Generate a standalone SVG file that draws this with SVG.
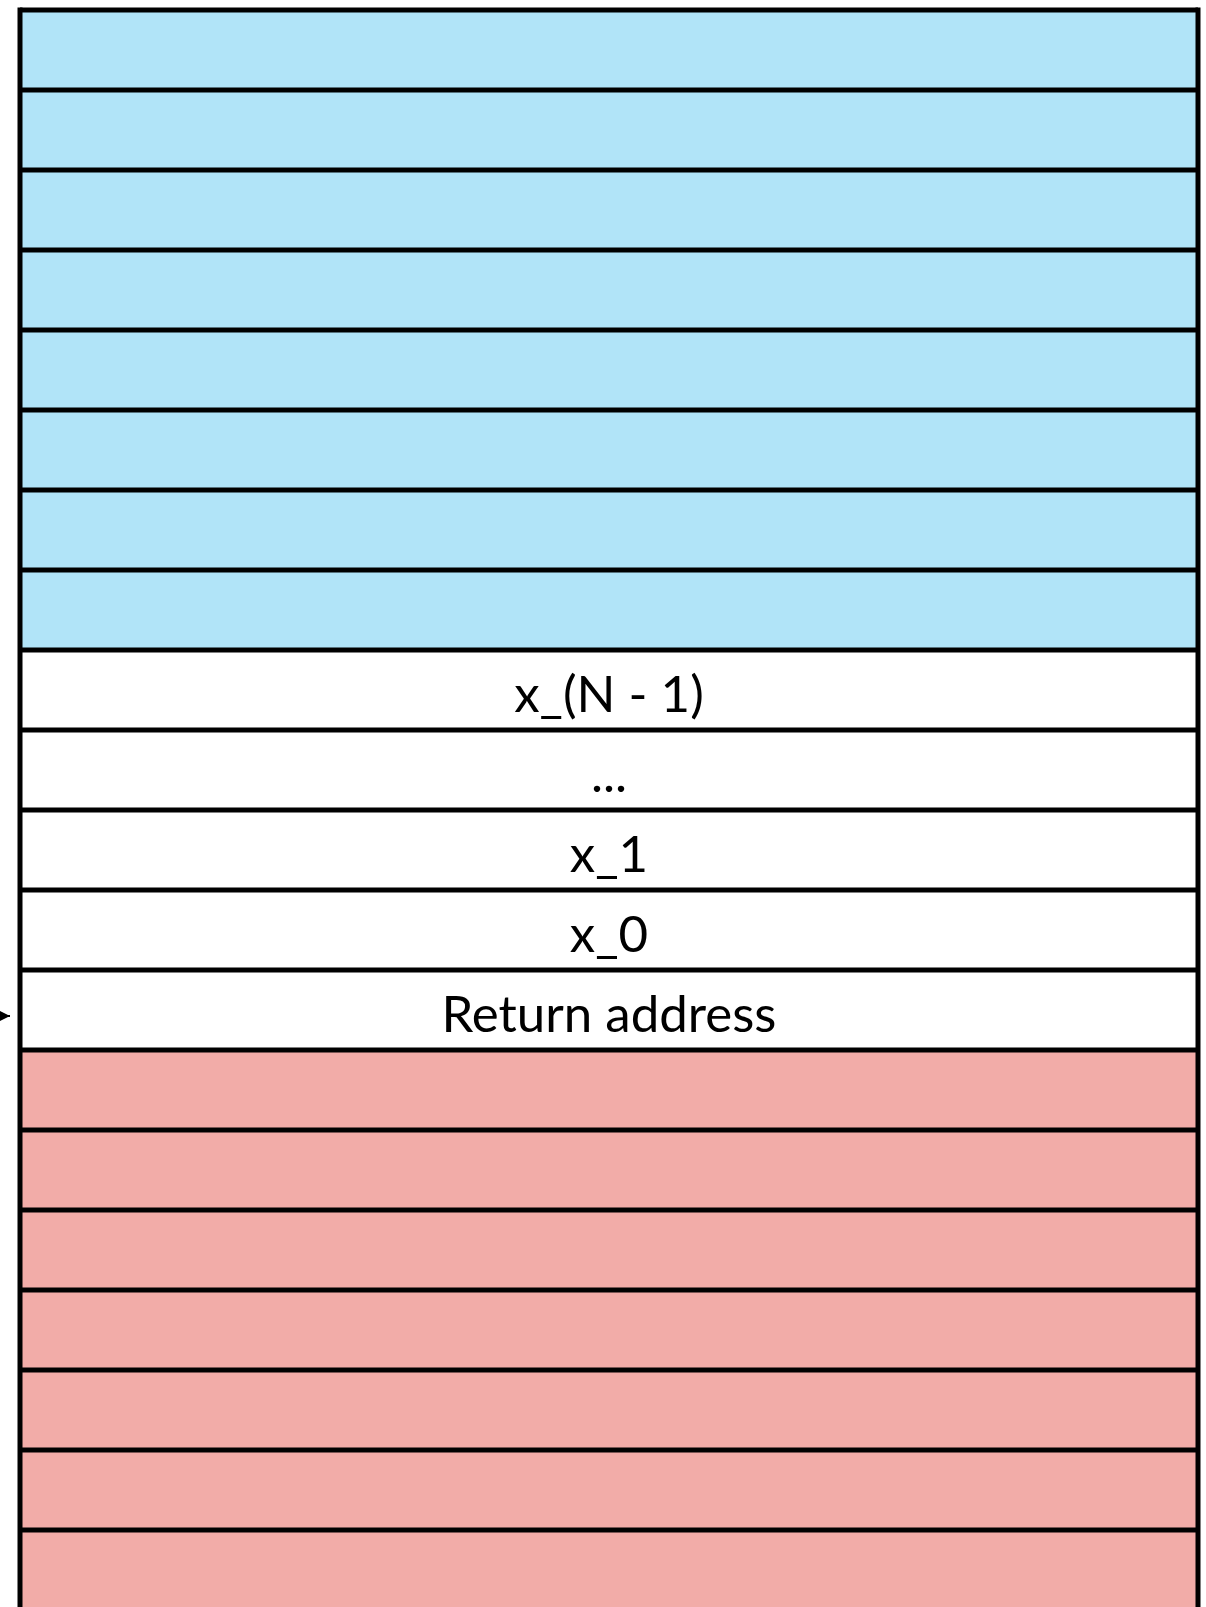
<svg xmlns="http://www.w3.org/2000/svg" width="1206" height="1607" viewBox="0 0 1206 1607">
<style>
.blue{fill:#b1e4f8}
.pink{fill:#f2aca8}
.white{fill:#ffffff}
.div{stroke:#000;stroke-width:5;fill:none}
.lbl{font-family:Lato,"Liberation Sans",sans-serif;font-size:51px;fill:#000;text-anchor:middle}
</style>
<defs>
<marker id="ah" markerWidth="10" markerHeight="10" refX="10" refY="5" orient="auto" markerUnits="userSpaceOnUse">
<path d="M0,0 L10,5 L0,10 Z" fill="#000"/>
</marker>
</defs>
<rect x="0" y="0" width="1206" height="1607" fill="#fff"/>
<g id="stack-rows">
<g id="row0"><rect class="blue" x="20" y="10" width="1178" height="80"/></g>
<g id="row1"><rect class="blue" x="20" y="90" width="1178" height="80"/></g>
<g id="row2"><rect class="blue" x="20" y="170" width="1178" height="80"/></g>
<g id="row3"><rect class="blue" x="20" y="250" width="1178" height="80"/></g>
<g id="row4"><rect class="blue" x="20" y="330" width="1178" height="80"/></g>
<g id="row5"><rect class="blue" x="20" y="410" width="1178" height="80"/></g>
<g id="row6"><rect class="blue" x="20" y="490" width="1178" height="80"/></g>
<g id="row7"><rect class="blue" x="20" y="570" width="1178" height="80"/></g>
<g id="row-xN1"><rect class="white" x="20" y="650" width="1178" height="80"/><text class="lbl" x="609" y="712">x_(N - 1)</text></g>
<g id="row-dots"><rect class="white" x="20" y="730" width="1178" height="80"/><text class="lbl" x="609" y="792">...</text></g>
<g id="row-x1"><rect class="white" x="20" y="810" width="1178" height="80"/><text class="lbl" x="609" y="872">x_1</text></g>
<g id="row-x0"><rect class="white" x="20" y="890" width="1178" height="80"/><text class="lbl" x="609" y="952">x_0</text></g>
<g id="row-ret"><rect class="white" x="20" y="970" width="1178" height="80"/><text class="lbl" x="609" y="1032">Return address</text></g>
<g id="row13"><rect class="pink" x="20" y="1050" width="1178" height="80"/></g>
<g id="row14"><rect class="pink" x="20" y="1130" width="1178" height="80"/></g>
<g id="row15"><rect class="pink" x="20" y="1210" width="1178" height="80"/></g>
<g id="row16"><rect class="pink" x="20" y="1290" width="1178" height="80"/></g>
<g id="row17"><rect class="pink" x="20" y="1370" width="1178" height="80"/></g>
<g id="row18"><rect class="pink" x="20" y="1450" width="1178" height="80"/></g>
<g id="row19"><rect class="pink" x="20" y="1530" width="1178" height="90"/></g>
</g>
<g id="grid-lines">
<path class="div" d="M20,10 H1198 M20,90 H1198 M20,170 H1198 M20,250 H1198 M20,330 H1198 M20,410 H1198 M20,490 H1198 M20,570 H1198 M20,650 H1198 M20,730 H1198 M20,810 H1198 M20,890 H1198 M20,970 H1198 M20,1050 H1198 M20,1130 H1198 M20,1210 H1198 M20,1290 H1198 M20,1370 H1198 M20,1450 H1198 M20,1530 H1198"/>
<path class="div" d="M20,7.5 V1620 M1198,7.5 V1620"/>
</g>
<g id="connectors">
<line x1="-60" y1="1016" x2="10" y2="1016" stroke="#000" stroke-width="2" marker-end="url(#ah)"/>
</g>
</svg>
